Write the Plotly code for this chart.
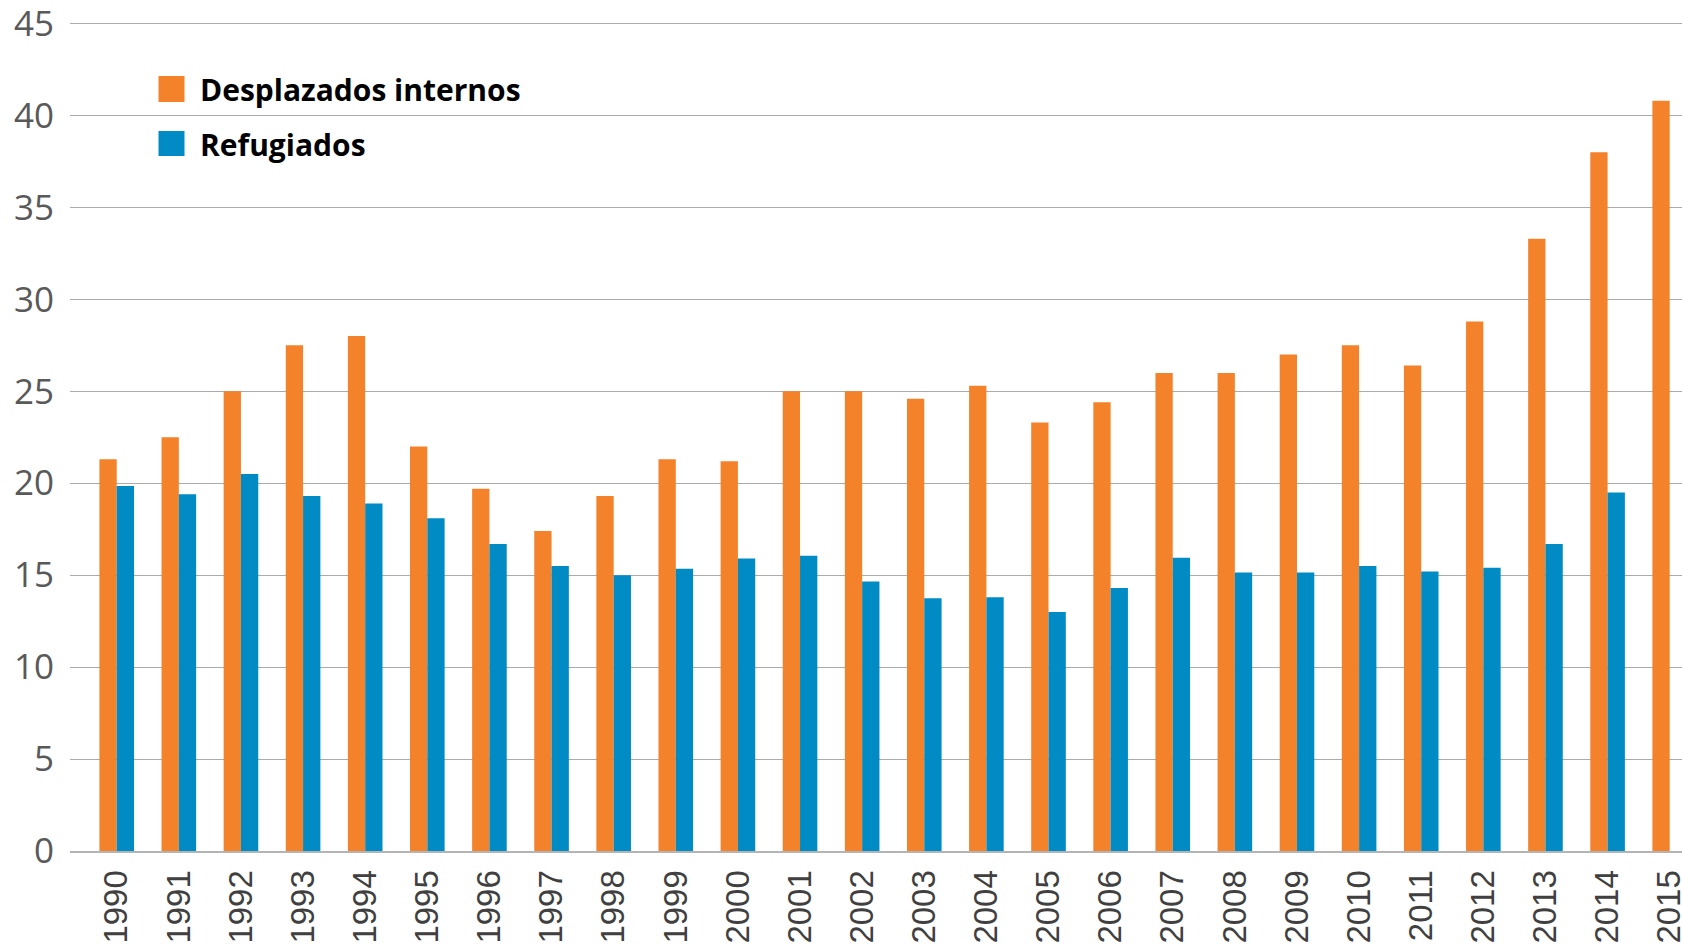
import plotly.graph_objects as go

years = [str(y) for y in range(1990, 2016)]
series_names = ["Desplazados internos", "Refugiados"]
desplazados = [21.3, 22.5, 25.0, 27.5, 28.0, 22.0, 19.7, 17.4, 19.3, 21.3,
               21.2, 25.0, 25.0, 24.6, 25.3, 23.3, 24.4, 26.0, 26.0, 27.0,
               27.5, 26.4, 28.8, 33.3, 38.0, 40.8]
refugiados = [19.85, 19.4, 20.5, 19.3, 18.9, 18.1, 16.7, 15.5, 15.0, 15.35,
              15.9, 16.05, 14.65, 13.75, 13.8, 13.0, 14.3, 15.95, 15.15, 15.15,
              15.5, 15.2, 15.4, 16.7, 19.5, None]
y_ticks = [0, 5, 10, 15, 20, 25, 30, 35, 40, 45]

colors = ["#F4822A", "#008BC4"]

W, H = 1682, 950
ML, MR, MT, MB = 70, 0, 18, 99
PW = W - ML - MR
PH = H - MT - MB

fig = go.Figure()
fig.add_trace(go.Bar(x=years, y=desplazados, name=series_names[0],
                     marker=dict(color=colors[0], line=dict(width=0)),
                     showlegend=False))
fig.add_trace(go.Bar(x=years, y=refugiados, name=series_names[1],
                     marker=dict(color=colors[1], line=dict(width=0)),
                     showlegend=False))

def px_x(p):
    return (p - ML) / PW

def px_y(p):
    return 1 - (p - MT) / PH

# manual legend (swatches + labels)
legend_rows = [(76, 102), (131, 156)]
for (top, bot), name, col in zip(legend_rows, series_names, colors):
    fig.add_shape(type="rect", xref="paper", yref="paper",
                  x0=px_x(158.5), x1=px_x(184.5), y0=px_y(bot), y1=px_y(top),
                  fillcolor=col, line=dict(width=0), layer="above")
    fig.add_annotation(xref="paper", yref="paper", x=px_x(198), y=px_y((top + bot) / 2 + 1),
                       xanchor="left", yanchor="middle", showarrow=False,
                       text=name,
                       font=dict(family="Open Sans", size=30, color="#000000", weight=700))

fig.update_layout(
    template="none",
    width=W, height=H,
    margin=dict(l=ML, r=MR, t=MT, b=MB, pad=0, autoexpand=False),
    paper_bgcolor="white", plot_bgcolor="white",
    barmode="group", bargap=0.443, bargroupgap=0,
    showlegend=False,
)
fig.update_xaxes(
    type="category", range=[-0.752, 25.198], automargin=False,
    tickangle=-90, ticks="", showgrid=False,
    showline=True, linecolor="#B4B4B4", linewidth=2,
    tickfont=dict(family="Liberation Sans", size=33, color="#404040"),
    ticklabelstandoff=4, ticklabeloverflow="allow",
)
fig.update_yaxes(
    range=[0, 45.3], tickvals=y_ticks, ticks="", automargin=False,
    showgrid=True, gridcolor="#ABABAB", gridwidth=1.4,
    zeroline=False, showline=False,
    tickfont=dict(family="Open Sans", size=35, color="#595959"),
    ticklabelstandoff=15, ticklabeloverflow="allow",
)

fig.write_html(
    "out.html",
    config={"displayModeBar": False},
    post_script="document.body.style.margin='0';document.body.style.overflow='hidden';",
)
